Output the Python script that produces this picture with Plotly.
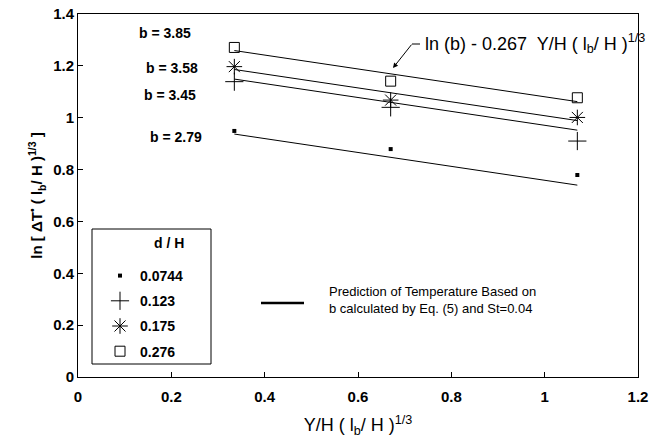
import plotly.graph_objects as go

# ---- data ----
x_cols = [0.335, 0.67, 1.07]
dH_labels = ["0.0744", "0.123", "0.175", "0.276"]
y_dot = [0.949, 0.879, 0.779]
y_plus = [1.139, 1.040, 0.910]
y_star = [1.197, 1.068, 1.001]
y_square = [1.271, 1.141, 1.077]

# prediction lines ln(b) - 0.267 x, endpoints
b_labels = ["b = 3.85", "b = 3.58", "b = 3.45", "b = 2.79"]
line_x = [0.335, 1.07]
line_y_385 = [1.259, 1.062]
line_y_358 = [1.186, 0.989]
line_y_345 = [1.149, 0.952]
line_y_279 = [0.937, 0.740]

# b label positions (data coords)
b_lab_x = [0.186, 0.201, 0.197, 0.21]
b_lab_y = [1.327, 1.192, 1.088, 0.926]

x_ticks = [0, 0.2, 0.4, 0.6, 0.8, 1, 1.2]
y_ticks = [0, 0.2, 0.4, 0.6, 0.8, 1, 1.2, 1.4]

FONT = "Liberation Sans, Arial, Helvetica, sans-serif"

# plot-area pixel geometry helpers (paper coords)
L, R, T, B = 78, 638, 14, 377
def px(x):
    return (x - L) / (R - L)
def py(y):
    return (B - y) / (B - T)

fig = go.Figure()

for ly in [line_y_385, line_y_358, line_y_345, line_y_279]:
    fig.add_trace(go.Scatter(x=line_x, y=ly, mode="lines",
                             line=dict(color="black", width=1), showlegend=False,
                             hoverinfo="skip"))

series = [
    (y_dot, dict(symbol="square", size=4, color="black")),
    (y_plus, dict(symbol="cross-thin-open", size=13, color="black", line=dict(width=1, color="black"))),
    (y_star, dict(symbol="asterisk-open", size=13, color="black", line=dict(width=1, color="black"))),
    (y_square, dict(symbol="square-open", size=10, color="black", line=dict(width=1, color="black"))),
]
for i, (yy, mk) in enumerate(series):
    fig.add_trace(go.Scatter(x=x_cols, y=yy, mode="markers", marker=mk,
                             name=dH_labels[i], legendgroup=str(i)))

annotations = []
for lab, ax_, ay_ in zip(b_labels, b_lab_x, b_lab_y):
    annotations.append(dict(x=ax_, y=ay_, xref="x", yref="y", text=lab, showarrow=False,
                            font=dict(family=FONT, size=14, color="black", weight="bold")))

# equation label
annotations.append(dict(x=px(423), y=py(43), xref="paper", yref="paper",
                        xanchor="left", yanchor="middle", showarrow=False,
                        text="ln (b) - 0.267  Y/H ( l<sub>b</sub>/ H )<sup>1/3</sup>",
                        font=dict(family=FONT, size=18, color="black")))
# arrow (tiny invisible text box at the tail)
annotations.append(dict(x=px(393), y=py(68), xref="paper", yref="paper",
                        text=" ", font=dict(size=1), borderpad=0,
                        showarrow=True, ax=19, ay=-24, axref="pixel", ayref="pixel",
                        standoff=0, startstandoff=0,
                        arrowhead=2, arrowsize=1, arrowwidth=1, arrowcolor="black"))
# prediction legend text
annotations.append(dict(x=px(327), y=py(300), xref="paper", yref="paper",
                        xanchor="left", yanchor="middle", align="left", showarrow=False,
                        text="Prediction of Temperature Based on<br>b calculated by Eq. (5) and St=0.04",
                        font=dict(family=FONT, size=13, color="black")))
# legend title
annotations.append(dict(x=px(152), y=py(243), xref="paper", yref="paper",
                        showarrow=False, text="d / H",
                        font=dict(family=FONT, size=14, color="black", weight="bold")))

shapes = [
    dict(type="rect", xref="paper", yref="paper",
         x0=px(92), x1=px(211), y0=py(364), y1=py(229),
         line=dict(color="black", width=1), fillcolor="white", layer="below"),
    dict(type="line", xref="paper", yref="paper",
         x0=px(261), x1=px(304), y0=py(303), y1=py(303),
         line=dict(color="black", width=2.5)),
    dict(type="line", xref="paper", yref="paper",
         x0=px(412), x1=px(420), y0=py(44), y1=py(44),
         line=dict(color="black", width=1)),
]

axis_common = dict(showgrid=False, zeroline=False, showline=True, mirror=True,
                   linecolor="black", linewidth=1, ticks="inside", ticklen=5,
                   tickcolor="black", automargin=False,
                   tickfont=dict(family=FONT, size=15, color="black", weight="bold"))

fig.update_layout(
    width=649, height=438,
    margin=dict(l=L, r=649 - R, t=T, b=438 - B),
    paper_bgcolor="white", plot_bgcolor="white",
    xaxis=dict(range=[0, 1.2], tickvals=x_ticks, ticklabelstandoff=6, **axis_common,
               title=dict(text="Y/H ( l<sub>b</sub>/ H )<sup>1/3</sup>", standoff=15,
                          font=dict(family=FONT, size=18, color="black"))),
    yaxis=dict(range=[0, 1.4], tickvals=y_ticks, **axis_common,
               title=dict(text="ln [ ΔT<sup>•</sup> ( l<sub>b</sub>/ H )<sup>1/3</sup> ]", standoff=6,
                          font=dict(family=FONT, size=15, color="black", weight="bold"))),
    showlegend=True,
    legend=dict(x=px(100), y=py(260), xanchor="left", yanchor="top",
                bgcolor="rgba(0,0,0,0)", borderwidth=0, tracegroupgap=4,
                traceorder="grouped",
                font=dict(family=FONT, size=14, color="black", weight="bold")),
    annotations=annotations,
    shapes=shapes,
)

fig.write_html("out.html")
